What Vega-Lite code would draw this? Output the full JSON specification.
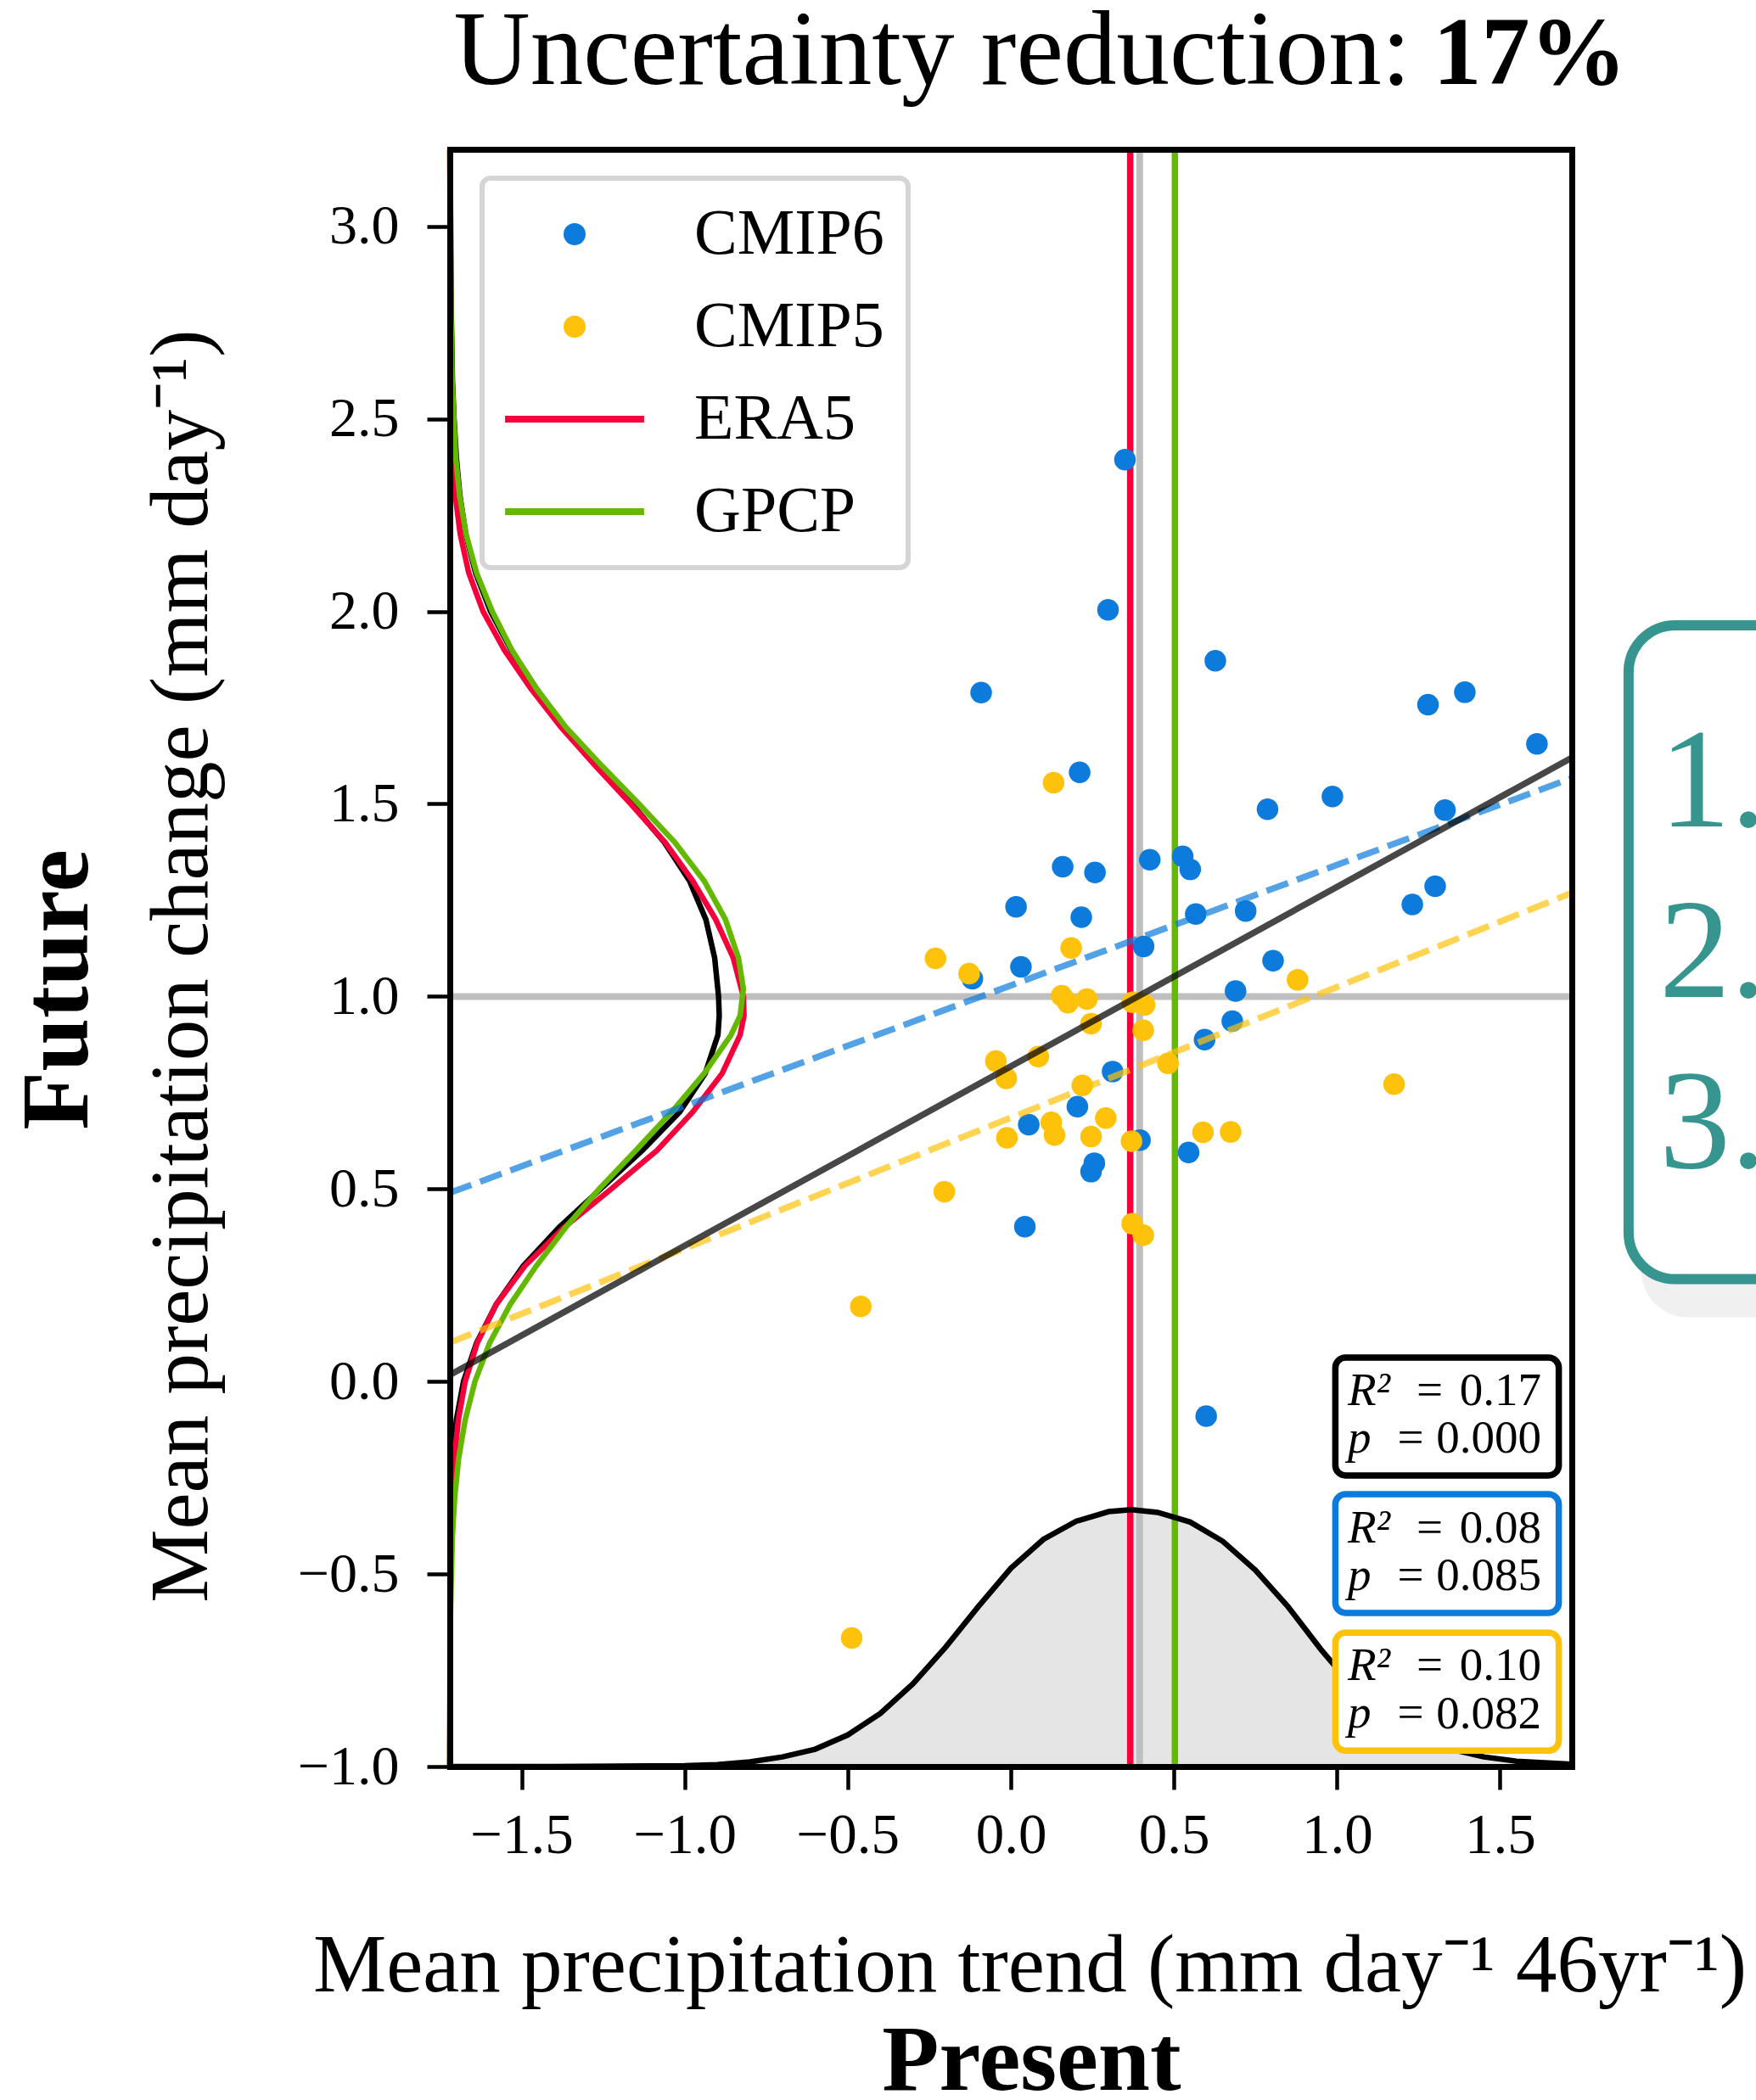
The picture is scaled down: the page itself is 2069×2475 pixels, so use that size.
{
  "$schema": "https://vega.github.io/schema/vega-lite/v6.json",
  "width": 1322,
  "height": 1906,
  "autosize": {"type": "none"},
  "padding": {"left": 530, "top": 176, "right": 217, "bottom": 393},
  "background": "white",
  "config": {
    "font": "Liberation Serif",
    "view": {"stroke": null},
    "axis": {"grid": false, "labelFont": "Liberation Serif", "titleFont": "Liberation Serif", "labelColor": "black", "titleColor": "black", "tickColor": "black", "domainColor": "black"}
  },
  "datasets": {
    "points": [
      {"series": "CMIP6", "trend": 0.350, "change": 2.394},
      {"series": "CMIP6", "trend": 0.298, "change": 2.004},
      {"series": "CMIP6", "trend": -0.091, "change": 1.789},
      {"series": "CMIP6", "trend": 0.627, "change": 1.872},
      {"series": "CMIP6", "trend": 1.279, "change": 1.758},
      {"series": "CMIP6", "trend": 1.392, "change": 1.790},
      {"series": "CMIP6", "trend": 1.613, "change": 1.656},
      {"series": "CMIP6", "trend": 0.211, "change": 1.582},
      {"series": "CMIP6", "trend": 0.787, "change": 1.486},
      {"series": "CMIP6", "trend": 0.986, "change": 1.519},
      {"series": "CMIP6", "trend": 1.331, "change": 1.484},
      {"series": "CMIP6", "trend": 0.159, "change": 1.337},
      {"series": "CMIP6", "trend": 0.258, "change": 1.322},
      {"series": "CMIP6", "trend": 0.426, "change": 1.355},
      {"series": "CMIP6", "trend": 0.527, "change": 1.364},
      {"series": "CMIP6", "trend": 0.550, "change": 1.330},
      {"series": "CMIP6", "trend": 0.016, "change": 1.233},
      {"series": "CMIP6", "trend": 0.216, "change": 1.206},
      {"series": "CMIP6", "trend": 0.567, "change": 1.214},
      {"series": "CMIP6", "trend": 0.720, "change": 1.222},
      {"series": "CMIP6", "trend": 1.231, "change": 1.239},
      {"series": "CMIP6", "trend": 1.301, "change": 1.286},
      {"series": "CMIP6", "trend": 0.407, "change": 1.130},
      {"series": "CMIP6", "trend": 0.804, "change": 1.093},
      {"series": "CMIP6", "trend": 0.689, "change": 1.014},
      {"series": "CMIP6", "trend": 0.031, "change": 1.077},
      {"series": "CMIP6", "trend": -0.118, "change": 1.046},
      {"series": "CMIP6", "trend": 0.679, "change": 0.936},
      {"series": "CMIP6", "trend": 0.594, "change": 0.888},
      {"series": "CMIP6", "trend": 0.312, "change": 0.805},
      {"series": "CMIP6", "trend": 0.204, "change": 0.714},
      {"series": "CMIP6", "trend": 0.055, "change": 0.667},
      {"series": "CMIP6", "trend": 0.396, "change": 0.627},
      {"series": "CMIP6", "trend": 0.545, "change": 0.595},
      {"series": "CMIP6", "trend": 0.256, "change": 0.567},
      {"series": "CMIP6", "trend": 0.246, "change": 0.545},
      {"series": "CMIP6", "trend": 0.043, "change": 0.402},
      {"series": "CMIP6", "trend": 0.599, "change": -0.090},
      {"series": "CMIP5", "trend": -0.231, "change": 1.099},
      {"series": "CMIP5", "trend": -0.128, "change": 1.059},
      {"series": "CMIP5", "trend": 0.185, "change": 1.126},
      {"series": "CMIP5", "trend": 0.156, "change": 1.002},
      {"series": "CMIP5", "trend": 0.175, "change": 0.984},
      {"series": "CMIP5", "trend": 0.233, "change": 0.993},
      {"series": "CMIP5", "trend": 0.373, "change": 0.985},
      {"series": "CMIP5", "trend": 0.410, "change": 0.978},
      {"series": "CMIP5", "trend": 0.246, "change": 0.929},
      {"series": "CMIP5", "trend": 0.406, "change": 0.912},
      {"series": "CMIP5", "trend": -0.046, "change": 0.832},
      {"series": "CMIP5", "trend": 0.084, "change": 0.844},
      {"series": "CMIP5", "trend": -0.014, "change": 0.787},
      {"series": "CMIP5", "trend": 0.482, "change": 0.826},
      {"series": "CMIP5", "trend": 0.219, "change": 0.769},
      {"series": "CMIP5", "trend": 0.124, "change": 0.673},
      {"series": "CMIP5", "trend": 0.134, "change": 0.640},
      {"series": "CMIP5", "trend": -0.012, "change": 0.633},
      {"series": "CMIP5", "trend": 0.291, "change": 0.684},
      {"series": "CMIP5", "trend": 0.246, "change": 0.636},
      {"series": "CMIP5", "trend": 0.370, "change": 0.624},
      {"series": "CMIP5", "trend": 0.589, "change": 0.647},
      {"series": "CMIP5", "trend": 0.674, "change": 0.648},
      {"series": "CMIP5", "trend": -0.204, "change": 0.493},
      {"series": "CMIP5", "trend": 0.372, "change": 0.410},
      {"series": "CMIP5", "trend": 0.406, "change": 0.380},
      {"series": "CMIP5", "trend": 0.131, "change": 1.555},
      {"series": "CMIP5", "trend": 0.879, "change": 1.043},
      {"series": "CMIP5", "trend": 1.175, "change": 0.772},
      {"series": "CMIP5", "trend": -0.460, "change": 0.195},
      {"series": "CMIP5", "trend": -0.488, "change": -0.666}
    ],
    "obs": [
      {"series": "ERA5", "trend": 0.366},
      {"series": "GPCP", "trend": 0.503}
    ],
    "refs": [{"trend": 0.395, "change": 1.0}],
    "fits": [
      {"fit": "All", "trend": -1.72, "change": 0.017},
      {"fit": "All", "trend": 1.72, "change": 1.62},
      {"fit": "CMIP6", "trend": -1.72, "change": 0.490},
      {"fit": "CMIP6", "trend": 1.72, "change": 1.567},
      {"fit": "CMIP5", "trend": -1.72, "change": 0.101},
      {"fit": "CMIP5", "trend": 1.72, "change": 1.269}
    ],
    "stats": [
      {"fit": "All", "r2": "0.17", "p": "0.000"},
      {"fit": "CMIP6", "r2": "0.08", "p": "0.085"},
      {"fit": "CMIP5", "r2": "0.10", "p": "0.082"}
    ],
    "kde_bottom": [
      {"trend": -1.72, "change": -1.000}, {"trend": -1.40, "change": -1.000}, {"trend": -1.20, "change": -0.999},
      {"trend": -1.00, "change": -0.998}, {"trend": -0.90, "change": -0.995}, {"trend": -0.80, "change": -0.988},
      {"trend": -0.70, "change": -0.975}, {"trend": -0.60, "change": -0.955}, {"trend": -0.50, "change": -0.918},
      {"trend": -0.40, "change": -0.862}, {"trend": -0.30, "change": -0.785}, {"trend": -0.20, "change": -0.690},
      {"trend": -0.10, "change": -0.585}, {"trend": 0.00, "change": -0.485}, {"trend": 0.10, "change": -0.410},
      {"trend": 0.20, "change": -0.363}, {"trend": 0.30, "change": -0.338}, {"trend": 0.37, "change": -0.333},
      {"trend": 0.45, "change": -0.340}, {"trend": 0.55, "change": -0.365}, {"trend": 0.65, "change": -0.415},
      {"trend": 0.75, "change": -0.490}, {"trend": 0.85, "change": -0.585}, {"trend": 0.95, "change": -0.695},
      {"trend": 1.05, "change": -0.795}, {"trend": 1.15, "change": -0.870}, {"trend": 1.25, "change": -0.920},
      {"trend": 1.35, "change": -0.955}, {"trend": 1.45, "change": -0.975}, {"trend": 1.55, "change": -0.986},
      {"trend": 1.72, "change": -0.994}
    ],
    "kde_left": [
      {"curve": "prior", "change": 3.20, "trend": -1.719}, {"curve": "prior", "change": 2.80, "trend": -1.716},
      {"curve": "prior", "change": 2.60, "trend": -1.712}, {"curve": "prior", "change": 2.50, "trend": -1.707},
      {"curve": "prior", "change": 2.40, "trend": -1.700}, {"curve": "prior", "change": 2.30, "trend": -1.689},
      {"curve": "prior", "change": 2.20, "trend": -1.671}, {"curve": "prior", "change": 2.10, "trend": -1.641},
      {"curve": "prior", "change": 2.00, "trend": -1.595}, {"curve": "prior", "change": 1.90, "trend": -1.532},
      {"curve": "prior", "change": 1.80, "trend": -1.455}, {"curve": "prior", "change": 1.70, "trend": -1.368},
      {"curve": "prior", "change": 1.60, "trend": -1.268}, {"curve": "prior", "change": 1.50, "trend": -1.162},
      {"curve": "prior", "change": 1.40, "trend": -1.062}, {"curve": "prior", "change": 1.30, "trend": -0.985},
      {"curve": "prior", "change": 1.20, "trend": -0.935}, {"curve": "prior", "change": 1.10, "trend": -0.908},
      {"curve": "prior", "change": 1.00, "trend": -0.896}, {"curve": "prior", "change": 0.95, "trend": -0.894},
      {"curve": "prior", "change": 0.90, "trend": -0.898}, {"curve": "prior", "change": 0.80, "trend": -0.937},
      {"curve": "prior", "change": 0.70, "trend": -1.015}, {"curve": "prior", "change": 0.60, "trend": -1.130},
      {"curve": "prior", "change": 0.50, "trend": -1.258}, {"curve": "prior", "change": 0.40, "trend": -1.385},
      {"curve": "prior", "change": 0.30, "trend": -1.495}, {"curve": "prior", "change": 0.20, "trend": -1.578},
      {"curve": "prior", "change": 0.10, "trend": -1.638}, {"curve": "prior", "change": 0.00, "trend": -1.678},
      {"curve": "prior", "change": -0.10, "trend": -1.700}, {"curve": "prior", "change": -0.20, "trend": -1.711},
      {"curve": "prior", "change": -0.30, "trend": -1.716}, {"curve": "prior", "change": -0.50, "trend": -1.719},
      {"curve": "prior", "change": -1.00, "trend": -1.720},
      {"curve": "ERA5", "change": 3.20, "trend": -1.720}, {"curve": "ERA5", "change": 2.60, "trend": -1.717},
      {"curve": "ERA5", "change": 2.40, "trend": -1.711}, {"curve": "ERA5", "change": 2.30, "trend": -1.703},
      {"curve": "ERA5", "change": 2.20, "trend": -1.688}, {"curve": "ERA5", "change": 2.10, "trend": -1.662},
      {"curve": "ERA5", "change": 2.00, "trend": -1.618}, {"curve": "ERA5", "change": 1.90, "trend": -1.553},
      {"curve": "ERA5", "change": 1.80, "trend": -1.472}, {"curve": "ERA5", "change": 1.70, "trend": -1.380},
      {"curve": "ERA5", "change": 1.60, "trend": -1.275}, {"curve": "ERA5", "change": 1.50, "trend": -1.165},
      {"curve": "ERA5", "change": 1.40, "trend": -1.060}, {"curve": "ERA5", "change": 1.30, "trend": -0.975},
      {"curve": "ERA5", "change": 1.20, "trend": -0.905}, {"curve": "ERA5", "change": 1.10, "trend": -0.851},
      {"curve": "ERA5", "change": 1.00, "trend": -0.820}, {"curve": "ERA5", "change": 0.95, "trend": -0.818},
      {"curve": "ERA5", "change": 0.90, "trend": -0.830}, {"curve": "ERA5", "change": 0.80, "trend": -0.885},
      {"curve": "ERA5", "change": 0.70, "trend": -0.975}, {"curve": "ERA5", "change": 0.60, "trend": -1.085},
      {"curve": "ERA5", "change": 0.50, "trend": -1.225}, {"curve": "ERA5", "change": 0.40, "trend": -1.370},
      {"curve": "ERA5", "change": 0.30, "trend": -1.490}, {"curve": "ERA5", "change": 0.20, "trend": -1.578},
      {"curve": "ERA5", "change": 0.10, "trend": -1.636}, {"curve": "ERA5", "change": 0.00, "trend": -1.673},
      {"curve": "ERA5", "change": -0.10, "trend": -1.694}, {"curve": "ERA5", "change": -0.20, "trend": -1.706},
      {"curve": "ERA5", "change": -0.30, "trend": -1.713}, {"curve": "ERA5", "change": -0.50, "trend": -1.718},
      {"curve": "ERA5", "change": -1.00, "trend": -1.720},
      {"curve": "GPCP", "change": 3.20, "trend": -1.720}, {"curve": "GPCP", "change": 2.80, "trend": -1.717},
      {"curve": "GPCP", "change": 2.60, "trend": -1.713}, {"curve": "GPCP", "change": 2.40, "trend": -1.702},
      {"curve": "GPCP", "change": 2.30, "trend": -1.690}, {"curve": "GPCP", "change": 2.20, "trend": -1.670},
      {"curve": "GPCP", "change": 2.10, "trend": -1.638}, {"curve": "GPCP", "change": 2.00, "trend": -1.590},
      {"curve": "GPCP", "change": 1.90, "trend": -1.530}, {"curve": "GPCP", "change": 1.80, "trend": -1.455},
      {"curve": "GPCP", "change": 1.70, "trend": -1.365}, {"curve": "GPCP", "change": 1.60, "trend": -1.255},
      {"curve": "GPCP", "change": 1.50, "trend": -1.140}, {"curve": "GPCP", "change": 1.40, "trend": -1.030},
      {"curve": "GPCP", "change": 1.30, "trend": -0.940}, {"curve": "GPCP", "change": 1.20, "trend": -0.875},
      {"curve": "GPCP", "change": 1.10, "trend": -0.835}, {"curve": "GPCP", "change": 1.02, "trend": -0.820},
      {"curve": "GPCP", "change": 0.95, "trend": -0.830}, {"curve": "GPCP", "change": 0.90, "trend": -0.858},
      {"curve": "GPCP", "change": 0.80, "trend": -0.940}, {"curve": "GPCP", "change": 0.70, "trend": -1.040},
      {"curve": "GPCP", "change": 0.60, "trend": -1.150}, {"curve": "GPCP", "change": 0.50, "trend": -1.262},
      {"curve": "GPCP", "change": 0.40, "trend": -1.365}, {"curve": "GPCP", "change": 0.30, "trend": -1.455},
      {"curve": "GPCP", "change": 0.20, "trend": -1.535}, {"curve": "GPCP", "change": 0.10, "trend": -1.598},
      {"curve": "GPCP", "change": 0.00, "trend": -1.643}, {"curve": "GPCP", "change": -0.10, "trend": -1.673},
      {"curve": "GPCP", "change": -0.20, "trend": -1.693}, {"curve": "GPCP", "change": -0.30, "trend": -1.705},
      {"curve": "GPCP", "change": -0.40, "trend": -1.712}, {"curve": "GPCP", "change": -0.60, "trend": -1.718},
      {"curve": "GPCP", "change": -1.00, "trend": -1.720}
    ]
  },
  "resolve": {"axis": {"x": "independent", "y": "independent"}},
  "layer": [
    {
      "layer": [
        {
          "data": {"name": "kde_left"},
          "transform": [{"filter": "datum.curve === 'prior'"}],
          "mark": {"type": "area", "orient": "horizontal", "color": "#e5e5e5"},
          "encoding": {
            "y": {"field": "change", "type": "quantitative",
              "scale": {"domain": [-1.0, 3.2], "nice": false, "zero": false},
              "axis": {"orient": "left", "values": [-1, -0.5, 0, 0.5, 1, 1.5, 2, 2.5, 3], "format": ".1f", "grid": false,
                "domain": true, "domainColor": "black", "domainWidth": 7, "domainCap": "square",
                "ticks": true, "tickSize": 27, "tickWidth": 4.5, "tickColor": "black",
                "labelFont": "Liberation Serif", "labelFontSize": 66, "labelColor": "black", "labelPadding": 33, "labelFlush": false, "labelOverlap": false,
                "title": "Mean precipitation change (mm day⁻¹)", "titleFont": "Liberation Serif", "titleFontSize": 97, "titleFontWeight": "normal", "titleColor": "black",
                "titleX": -287, "titleY": 962, "titleAngle": 270, "titleAlign": "center", "titleBaseline": "alphabetic", "zindex": 1}},
            "x": {"field": "trend", "type": "quantitative",
              "scale": {"domain": [-1.72, 1.72], "nice": false, "zero": false},
              "axis": {"orient": "bottom", "values": [-1.5, -1, -0.5, 0, 0.5, 1, 1.5], "format": ".1f", "grid": false,
                "domain": true, "domainColor": "black", "domainWidth": 7, "domainCap": "square",
                "ticks": true, "tickSize": 27, "tickWidth": 4.5, "tickColor": "black",
                "labelFont": "Liberation Serif", "labelFontSize": 67, "labelColor": "black", "labelPadding": 21, "labelFlush": false, "labelOverlap": false,
                "title": "Mean precipitation trend (mm day⁻¹ 46yr⁻¹)", "titleFont": "Liberation Serif", "titleFontSize": 97, "titleFontWeight": "normal", "titleColor": "black",
                "titleX": 683, "titleY": 264, "titleAngle": 0, "titleAlign": "center", "titleBaseline": "alphabetic", "zindex": 1}},
            "x2": {"datum": -1.72},
            "order": {"field": "change", "type": "quantitative"}
          }
        },
        {
          "data": {"name": "kde_bottom"},
          "mark": {"type": "area", "color": "#e5e5e5"},
          "encoding": {
            "x": {"field": "trend", "type": "quantitative"},
            "y": {"field": "change", "type": "quantitative"},
            "y2": {"datum": -1.0}
          }
        },
        {
          "data": {"name": "refs"},
          "mark": {"type": "rule", "color": "#bfbfbf", "strokeWidth": 8},
          "encoding": {"y": {"field": "change", "type": "quantitative"}}
        },
        {
          "data": {"name": "refs"},
          "mark": {"type": "rule", "color": "#bfbfbf", "strokeWidth": 8},
          "encoding": {"x": {"field": "trend", "type": "quantitative"}}
        },
        {
          "data": {"name": "obs"},
          "mark": {"type": "rule", "strokeWidth": 7.5},
          "encoding": {
            "x": {"field": "trend", "type": "quantitative"},
            "color": {"field": "series", "type": "nominal",
              "scale": {"domain": ["CMIP6", "CMIP5", "ERA5", "GPCP"], "range": ["#0C7BDC", "#FFC20A", "#F5003A", "#64B900"]},
              "legend": {
                "title": null, "orient": "none", "legendX": 38, "legendY": 34,
                "labelFont": "Liberation Serif", "labelFontSize": 76, "labelColor": "black", "labelLimit": 0,
                "padding": 28, "rowPadding": 33, "cornerRadius": 10, "strokeColor": "#d5d5d5", "fillColor": "white",
                "symbolSize": 676, "symbolStrokeWidth": 0, "symbolType": "circle", "zindex": 1,
                "encode": {
                  "legend": {"update": {"strokeWidth": {"value": 6}}},
                  "symbols": {"update": {
                    "shape": {"signal": "indexof(['ERA5','GPCP'], datum.value) >= 0 ? 'M-6.3,-0.3H6.3V0.3H-6.3Z' : 'circle'"},
                    "fill": {"signal": "scale('color', datum.value)"},
                    "stroke": {"value": "transparent"},
                    "opacity": {"value": 1},
                    "x": {"value": 81}
                  }},
                  "labels": {"update": {"x": {"value": 222}}}
                }
              }
            }
          }
        },
        {
          "data": {"name": "kde_left"},
          "transform": [{"filter": "datum.curve === 'prior'"}],
          "mark": {"type": "line", "color": "black", "strokeWidth": 6.5},
          "encoding": {
            "x": {"field": "trend", "type": "quantitative"},
            "y": {"field": "change", "type": "quantitative"},
            "order": {"field": "change", "type": "quantitative"}
          }
        },
        {
          "data": {"name": "kde_left"},
          "transform": [{"filter": "datum.curve === 'ERA5'"}],
          "mark": {"type": "line", "color": "#F5003A", "strokeWidth": 6.5},
          "encoding": {
            "x": {"field": "trend", "type": "quantitative"},
            "y": {"field": "change", "type": "quantitative"},
            "order": {"field": "change", "type": "quantitative"}
          }
        },
        {
          "data": {"name": "kde_left"},
          "transform": [{"filter": "datum.curve === 'GPCP'"}],
          "mark": {"type": "line", "color": "#64B900", "strokeWidth": 6.5},
          "encoding": {
            "x": {"field": "trend", "type": "quantitative"},
            "y": {"field": "change", "type": "quantitative"},
            "order": {"field": "change", "type": "quantitative"}
          }
        },
        {
          "data": {"name": "kde_bottom"},
          "mark": {"type": "line", "color": "black", "strokeWidth": 6.5},
          "encoding": {
            "x": {"field": "trend", "type": "quantitative"},
            "y": {"field": "change", "type": "quantitative"}
          }
        },
        {
          "data": {"name": "points"},
          "mark": {"type": "point", "filled": true, "opacity": 1, "size": 650, "strokeWidth": 0},
          "encoding": {
            "x": {"field": "trend", "type": "quantitative"},
            "y": {"field": "change", "type": "quantitative"},
            "color": {"field": "series", "type": "nominal",
              "scale": {"domain": ["CMIP6", "CMIP5", "ERA5", "GPCP"], "range": ["#0C7BDC", "#FFC20A", "#F5003A", "#64B900"]}
            }
          }
        },
        {
          "data": {"name": "fits"},
          "transform": [{"filter": "datum.fit === 'CMIP6'"}],
          "mark": {"type": "line", "color": "#0C7BDC", "opacity": 0.7, "strokeWidth": 7.5, "strokeDash": [27, 11]},
          "encoding": {
            "x": {"field": "trend", "type": "quantitative"},
            "y": {"field": "change", "type": "quantitative"}
          }
        },
        {
          "data": {"name": "fits"},
          "transform": [{"filter": "datum.fit === 'CMIP5'"}],
          "mark": {"type": "line", "color": "#FFC20A", "opacity": 0.7, "strokeWidth": 7.5, "strokeDash": [27, 11]},
          "encoding": {
            "x": {"field": "trend", "type": "quantitative"},
            "y": {"field": "change", "type": "quantitative"}
          }
        },
        {
          "data": {"name": "fits"},
          "transform": [{"filter": "datum.fit === 'All'"}],
          "mark": {"type": "line", "color": "black", "opacity": 0.72, "strokeWidth": 7.5},
          "encoding": {
            "x": {"field": "trend", "type": "quantitative"},
            "y": {"field": "change", "type": "quantitative"}
          }
        },
        {
          "data": {"name": "stats"},
          "transform": [{"filter": "datum.fit === 'All'"}],
          "layer": [
            {"mark": {"type": "rect", "fill": "white", "stroke": "black", "strokeWidth": 7.5, "cornerRadius": 12},
             "encoding": {"x": {"datum": 0.995}, "x2": {"datum": 1.680}, "y": {"datum": 0.0622}, "y2": {"datum": -0.2441}}},
            {"mark": {"type": "text", "align": "left", "baseline": "alphabetic", "fontStyle": "italic", "fontSize": 55, "lineHeight": 56, "color": "black", "font": "Liberation Serif"},
             "encoding": {"x": {"datum": 1.033}, "y": {"datum": -0.0613}, "text": {"value": ["R²\u00a0 =", "p\u00a0 ="]}}},
            {"mark": {"type": "text", "align": "right", "baseline": "alphabetic", "fontSize": 55, "color": "black", "font": "Liberation Serif"},
             "encoding": {"x": {"datum": 1.626}, "y": {"datum": -0.0613}, "text": {"field": "r2"}}},
            {"mark": {"type": "text", "align": "right", "baseline": "alphabetic", "fontSize": 55, "color": "black", "font": "Liberation Serif"},
             "encoding": {"x": {"datum": 1.626}, "y": {"datum": -0.1847}, "text": {"field": "p"}}}
          ]
        },
        {
          "data": {"name": "stats"},
          "transform": [{"filter": "datum.fit === 'CMIP6'"}],
          "layer": [
            {"mark": {"type": "rect", "fill": "white", "stroke": "#0C7BDC", "strokeWidth": 7.5, "cornerRadius": 12},
             "encoding": {"x": {"datum": 0.995}, "x2": {"datum": 1.680}, "y": {"datum": -0.2926}, "y2": {"datum": -0.6011}}},
            {"mark": {"type": "text", "align": "left", "baseline": "alphabetic", "fontStyle": "italic", "fontSize": 55, "lineHeight": 56, "color": "black", "font": "Liberation Serif"},
             "encoding": {"x": {"datum": 1.033}, "y": {"datum": -0.4176}, "text": {"value": ["R²\u00a0 =", "p\u00a0 ="]}}},
            {"mark": {"type": "text", "align": "right", "baseline": "alphabetic", "fontSize": 55, "color": "black", "font": "Liberation Serif"},
             "encoding": {"x": {"datum": 1.626}, "y": {"datum": -0.4176}, "text": {"field": "r2"}}},
            {"mark": {"type": "text", "align": "right", "baseline": "alphabetic", "fontSize": 55, "color": "black", "font": "Liberation Serif"},
             "encoding": {"x": {"datum": 1.626}, "y": {"datum": -0.5423}, "text": {"field": "p"}}}
          ]
        },
        {
          "data": {"name": "stats"},
          "transform": [{"filter": "datum.fit === 'CMIP5'"}],
          "layer": [
            {"mark": {"type": "rect", "fill": "white", "stroke": "#FFC20A", "strokeWidth": 7.5, "cornerRadius": 12},
             "encoding": {"x": {"datum": 0.995}, "x2": {"datum": 1.680}, "y": {"datum": -0.6524}, "y2": {"datum": -0.9587}}},
            {"mark": {"type": "text", "align": "left", "baseline": "alphabetic", "fontStyle": "italic", "fontSize": 55, "lineHeight": 56, "color": "black", "font": "Liberation Serif"},
             "encoding": {"x": {"datum": 1.033}, "y": {"datum": -0.7752}, "text": {"value": ["R²\u00a0 =", "p\u00a0 ="]}}},
            {"mark": {"type": "text", "align": "right", "baseline": "alphabetic", "fontSize": 55, "color": "black", "font": "Liberation Serif"},
             "encoding": {"x": {"datum": 1.626}, "y": {"datum": -0.7752}, "text": {"field": "r2"}}},
            {"mark": {"type": "text", "align": "right", "baseline": "alphabetic", "fontSize": 55, "color": "black", "font": "Liberation Serif"},
             "encoding": {"x": {"datum": 1.626}, "y": {"datum": -0.9002}, "text": {"field": "p"}}}
          ]
        },
        {
          "data": {"values": [{}]},
          "layer": [
            {"mark": {"type": "rect", "fill": "#f0f0f0", "cornerRadius": 55},
             "encoding": {"x": {"datum": 1.933}, "x2": {"datum": 2.5}, "y": {"datum": 1.865}, "y2": {"datum": 0.1666}}},
            {"mark": {"type": "rect", "fill": "white", "stroke": "#36968F", "strokeWidth": 12, "cornerRadius": 55},
             "encoding": {"x": {"datum": 1.894}, "x2": {"datum": 2.5}, "y": {"datum": 1.964}, "y2": {"datum": 0.2658}}},
            {"mark": {"type": "text", "align": "left", "baseline": "alphabetic", "fontSize": 168, "lineHeight": 201, "color": "#36968F", "font": "Liberation Serif"},
             "encoding": {"x": {"datum": 1.988}, "y": {"datum": 1.442}, "text": {"value": ["1.", "2.", "3."]}}}
          ]
        }
      ]
    },
    {
      "data": {"values": [{}]},
      "mark": {"type": "point", "opacity": 0},
      "encoding": {
        "x": {"datum": 0, "type": "quantitative",
          "axis": {"orient": "bottom", "labels": false, "ticks": false, "domain": false, "grid": false,
            "title": "Present", "titleFont": "Liberation Serif", "titleFontSize": 110, "titleFontWeight": "bold", "titleColor": "black",
            "titleX": 685, "titleY": 380, "titleAngle": 0, "titleAlign": "center", "titleBaseline": "alphabetic"}},
        "y": {"datum": 1, "type": "quantitative",
          "axis": {"orient": "left", "labels": false, "ticks": false, "domain": false, "grid": false,
            "title": "Future", "titleFont": "Liberation Serif", "titleFontSize": 113, "titleFontWeight": "bold", "titleColor": "black",
            "titleX": -428, "titleY": 990, "titleAngle": 270, "titleAlign": "center", "titleBaseline": "alphabetic"}}
      }
    },
    {
      "data": {"values": [{}]},
      "mark": {"type": "point", "opacity": 0},
      "encoding": {
        "x": {"datum": 0, "type": "quantitative",
          "axis": {"orient": "top", "labels": false, "ticks": false, "grid": false,
            "domain": true, "domainColor": "black", "domainWidth": 7, "domainCap": "square",
            "title": "Uncertainty reduction:", "titleFont": "Liberation Serif", "titleFontSize": 125, "titleFontWeight": "normal", "titleColor": "black",
            "titleX": 4, "titleY": -78, "titleAngle": 0, "titleAlign": "left", "titleBaseline": "alphabetic", "zindex": 1}},
        "y": {"datum": 1, "type": "quantitative",
          "axis": {"orient": "right", "labels": false, "ticks": false, "grid": false, "title": null,
            "domain": true, "domainColor": "black", "domainWidth": 7, "domainCap": "square", "zindex": 1}}
      }
    },
    {
      "data": {"values": [{}]},
      "mark": {"type": "point", "opacity": 0},
      "encoding": {
        "x": {"datum": 0, "type": "quantitative",
          "axis": {"orient": "top", "labels": false, "ticks": false, "domain": false, "grid": false,
            "title": "17%", "titleFont": "Liberation Serif", "titleFontSize": 114, "titleFontWeight": "bold", "titleColor": "black",
            "titleX": 1158, "titleY": -78, "titleAngle": 0, "titleAlign": "left", "titleBaseline": "alphabetic"}},
        "y": {"datum": 1, "type": "quantitative", "axis": null}
      }
    }
  ]
}
